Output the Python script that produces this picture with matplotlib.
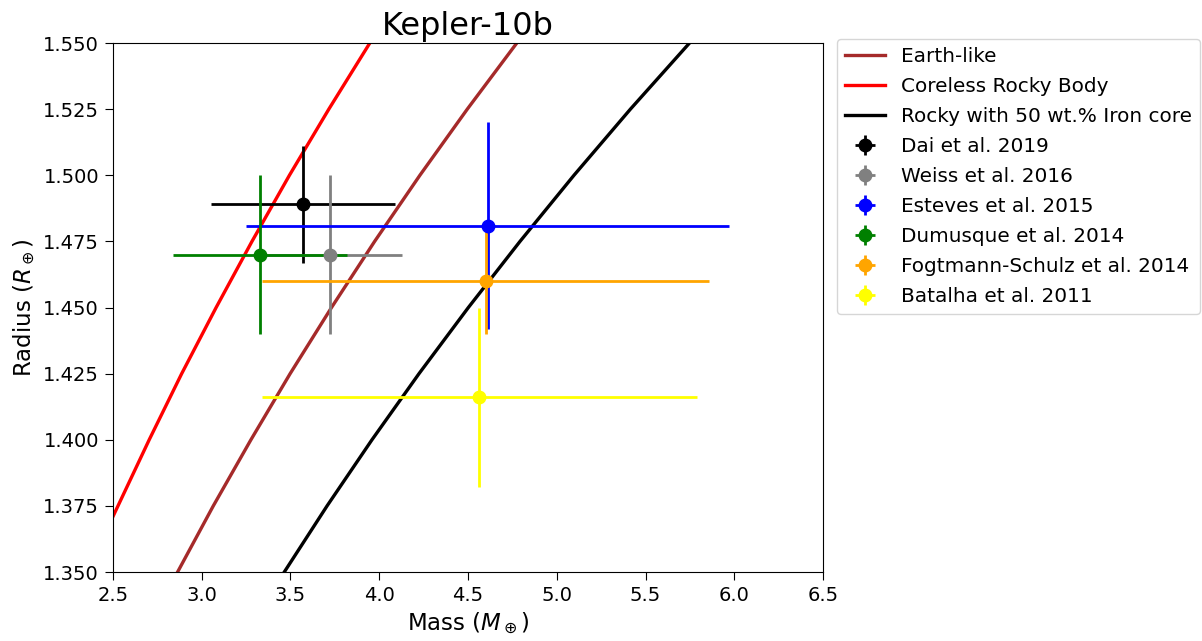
import matplotlib
matplotlib.use("Agg")
import matplotlib.pyplot as plt

# Composition curves (mass, radius)
earth_mass = [2.864, 3.065, 3.277, 3.498, 3.731, 3.974, 4.229, 4.496, 4.775]
earth_rad = [1.350, 1.375, 1.400, 1.425, 1.450, 1.475, 1.500, 1.525, 1.550]
coreless_mass = [2.50, 2.704, 2.887, 3.081, 3.283, 3.494, 3.716, 3.947]
coreless_rad = [1.371, 1.400, 1.425, 1.450, 1.475, 1.500, 1.525, 1.550]
iron_mass = [3.465, 3.706, 3.959, 4.224, 4.502, 4.793, 5.097, 5.415, 5.748]
iron_rad = [1.350, 1.375, 1.400, 1.425, 1.450, 1.475, 1.500, 1.525, 1.550]

# Measurements of Kepler-10b
labels = ['Dai et al. 2019', 'Weiss et al. 2016', 'Esteves et al. 2015',
          'Dumusque et al. 2014', 'Fogtmann-Schulz et al. 2014', 'Batalha et al. 2011']
colors = ['black', 'grey', 'blue', 'green', 'orange', 'yellow']
mass = [3.57, 3.72, 4.61, 3.33, 4.60, 4.56]
mass_err_lo = [0.52, 0.41, 1.36, 0.49, 1.26, 1.22]
mass_err_hi = [0.52, 0.41, 1.36, 0.49, 1.26, 1.23]
radius = [1.489, 1.470, 1.481, 1.470, 1.460, 1.416]
rad_err = [0.022, 0.030, 0.039, 0.030, 0.020, 0.034]

fig = plt.figure(figsize=(12.02, 6.41), dpi=100)
ax = fig.add_axes([0.094, 0.1076, 0.5907, 0.8253])

ax.plot(earth_mass, earth_rad, color='brown', lw=2.4, label='Earth-like')
ax.plot(coreless_mass, coreless_rad, color='red', lw=2.4, label='Coreless Rocky Body')
ax.plot(iron_mass, iron_rad, color='black', lw=2.4, label='Rocky with 50 wt.% Iron core')

for i in range(len(labels)):
    ax.errorbar(mass[i], radius[i],
                xerr=[[mass_err_lo[i]], [mass_err_hi[i]]], yerr=rad_err[i],
                fmt='o', color=colors[i], ms=9, elinewidth=2, label=labels[i])

ax.set_xlim(2.5, 6.5)
ax.set_ylim(1.35, 1.55)
ax.set_xticks([2.5, 3.0, 3.5, 4.0, 4.5, 5.0, 5.5, 6.0, 6.5])
ax.set_yticks([1.350, 1.375, 1.400, 1.425, 1.450, 1.475, 1.500, 1.525, 1.550])
ax.set_yticklabels(['%.3f' % v for v in ax.get_yticks()])
ax.tick_params(labelsize=14, length=5.5, pad=4.5)
ax.set_xlabel(r'Mass ($M_\oplus$)', fontsize=16.5)
ax.set_ylabel(r'Radius ($R_\oplus$)', fontsize=16.5)
ax.set_title('Kepler-10b', fontsize=23)

ax.legend(loc='upper left', bbox_to_anchor=(1.005, 1.027), fontsize=14.4,
          labelspacing=0.55, handlelength=2.0)

fig.savefig('out.png', dpi=100)
